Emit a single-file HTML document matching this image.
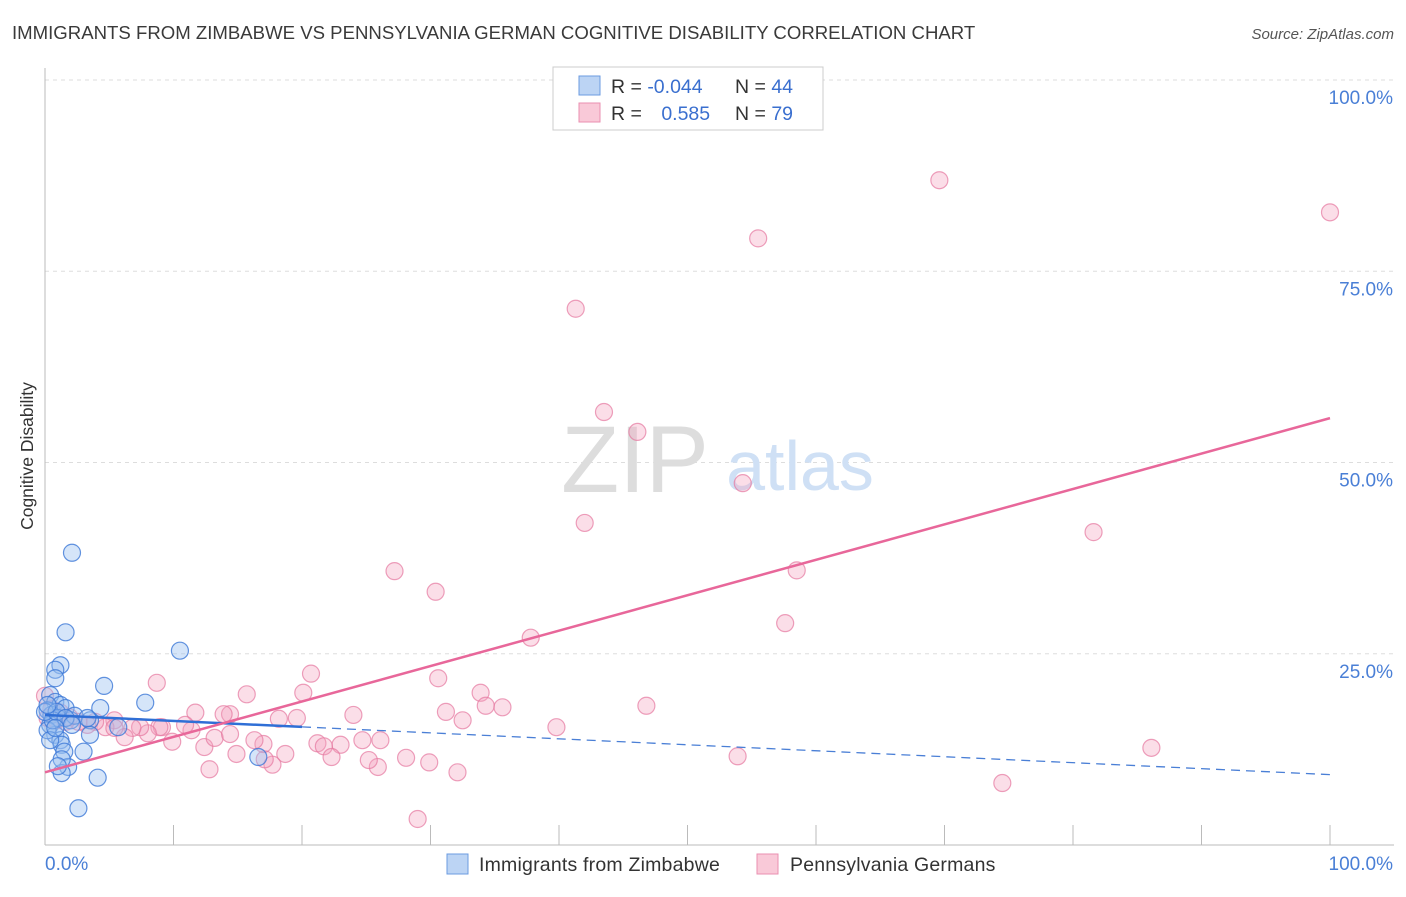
<!DOCTYPE html>
<html><head><meta charset="utf-8">
<style>
body{margin:0;background:#fff;font-family:"Liberation Sans",sans-serif;}
svg text{font-family:"Liberation Sans",sans-serif;}
</style></head>
<body>
<svg width="1406" height="892" xmlns="http://www.w3.org/2000/svg">
<text x="12" y="39" font-size="18.6" fill="#3a3a3a">IMMIGRANTS FROM ZIMBABWE VS PENNSYLVANIA GERMAN COGNITIVE DISABILITY CORRELATION CHART</text>
<text x="1394" y="39" font-size="15" fill="#555" font-style="italic" text-anchor="end">Source: ZipAtlas.com</text>
<g id="grid"></g>
<line x1="45" y1="68" x2="45" y2="845" stroke="#bbb"/>
<line x1="45" y1="845" x2="1394" y2="845" stroke="#bbb"/>
<text x="33" y="456" font-size="17.5" fill="#333" text-anchor="middle" transform="rotate(-90 33 456)">Cognitive Disability</text>
<text x="635" y="492" font-size="95" fill="#ddd" font-family="Liberation Serif" text-anchor="middle">ZIP</text>
<text x="800" y="490" font-size="70" fill="#cfe0f5" text-anchor="middle">atlas</text>
<g id="pts"></g>
<g id="lines"></g>
<text x="45" y="870" font-size="19" fill="#4a7fd6">0.0%</text>
<text x="1393" y="870" font-size="19" fill="#4a7fd6" text-anchor="end">100.0%</text>
<g>
<rect x="553" y="67" width="270" height="63" fill="#fff" stroke="#ccc"/>
<rect x="579" y="76" width="21" height="19" fill="#bcd4f4" stroke="#6b9be0"/>
<rect x="579" y="103" width="21" height="19" fill="#f9c9d8" stroke="#ea8fb0"/>
<text x="611" y="93" font-size="19.5" fill="#333">R = <tspan fill="#3a6fcf">-0.044</tspan></text>
<text x="735" y="93" font-size="19.5" fill="#333">N = <tspan fill="#3a6fcf">44</tspan></text>
<text x="611" y="120" font-size="19.5" fill="#333">R = <tspan fill="#3a6fcf" dx="14">0.585</tspan></text>
<text x="735" y="120" font-size="19.5" fill="#333">N = <tspan fill="#3a6fcf">79</tspan></text>
</g>
<g>
<rect x="447" y="854" width="21" height="20" fill="#bcd4f4" stroke="#6b9be0"/>
<text x="479" y="871" font-size="19.5" fill="#333" letter-spacing="0.2">Immigrants from Zimbabwe</text>
</g>
<g>
<rect x="757" y="854" width="21" height="20" fill="#f9c9d8" stroke="#ea8fb0"/>
<text x="790" y="871" font-size="19.5" fill="#333" letter-spacing="0.2">Pennsylvania Germans</text>
</g>
</svg>
<script>
const yTicks=[25,50,75,100];
const xTicks=[0,10,20,30,40,50,60,70,80,90,100];
const blueX=[2.1,1.6,10.5,1.2,0.8,0.8,4.6,7.8,4.3,0.4,0.8,1.2,1.6,0.2,0.5,1.0,2.0,2.3,3.5,5.7,0.4,0.8,1.2,1.3,3.5,3.0,1.5,1.8,1.3,4.1,2.6,16.6,0.2,0.6,0,0.9,1.6,2.1,0.2,0.4,1.3,3.3,0.8,1.0];
const blueY=[38.2,27.8,25.4,23.5,22.9,21.8,20.8,18.6,17.9,19.6,18.7,18.3,17.9,17.6,17.0,16.6,16.3,16.9,16.3,15.4,15.7,14.4,13.7,13.1,14.4,12.2,12.2,10.2,9.4,8.8,4.8,11.5,15.0,16.3,17.4,17.4,16.6,15.7,18.3,13.7,11.2,16.6,15.3,10.3];
const pinkX=[69.6,100,55.5,41.3,43.5,46.1,54.3,42.0,81.6,27.2,58.5,30.4,37.8,57.6,20.7,8.7,30.6,15.7,20.1,33.9,34.3,35.6,31.2,32.5,46.8,24.0,39.8,86.1,53.9,74.5,29.0,32.1,29.9,28.1,25.9,25.2,26.1,24.7,23.0,21.2,21.7,22.3,19.6,18.2,18.7,17.7,17.1,17.0,16.3,14.9,14.4,13.9,12.8,12.4,13.2,11.7,11.4,10.9,9.9,9.1,8.9,8.0,7.4,6.8,6.2,5.4,4.7,3.9,3.3,2.6,1.9,1.2,0.5,0.2,0.9,0,1.6,5.4,14.4];
const pinkY=[86.9,82.7,79.3,70.1,56.6,54.0,47.3,42.1,40.9,35.8,35.9,33.1,27.1,29.0,22.4,21.2,21.8,19.7,19.9,19.9,18.2,18.0,17.4,16.3,18.2,17.0,15.4,12.7,11.6,8.1,3.4,9.5,10.8,11.4,10.2,11.1,13.7,13.7,13.1,13.3,12.9,11.5,16.6,16.5,11.9,10.5,11.2,13.2,13.7,11.9,17.1,17.1,9.9,12.8,14.0,17.3,15.0,15.7,13.5,15.4,15.4,14.6,15.4,15.3,14.1,16.3,15.4,16.1,15.7,16.1,16.7,17.3,17.8,16.6,16.3,19.5,16.1,15.3,14.5];
const pinkTrend=[9.5,55.8];
const blueTrend=[17.0,9.2];
const NS='http://www.w3.org/2000/svg';
const sx=v=>45+v*12.85, sy=v=>845-v*7.65;
function mk(t,a,p){const e=document.createElementNS(NS,t);for(const k in a)e.setAttribute(k,a[k]);p.appendChild(e);return e;}
const grid=document.getElementById('grid');
yTicks.forEach(t=>{
 const l=mk('line',{x1:45,x2:1394,y1:sy(t),y2:sy(t),stroke:'#ddd','stroke-dasharray':'4,4'},grid);
 
 
 const tx=mk('text',{x:1393,y:sy(t)+24,'font-size':19,fill:'#4a7fd6','text-anchor':'end'},grid);
 tx.textContent=t.toFixed(1)+'%';
 
 
});
xTicks.forEach(t=>{
 const l=mk('line',{x1:sx(t),x2:sx(t),y1:825,y2:845,stroke:'#bbb'},grid);
 
 
});
const pts=document.getElementById('pts');
pinkX.forEach((x,i)=>{
 const c=mk('circle',{cx:sx(x),cy:sy(pinkY[i]),r:8.5,fill:'rgba(244,160,190,0.35)',stroke:'rgba(230,120,160,0.7)','stroke-width':1.2},pts);
 
 
});
blueX.forEach((x,i)=>{
 const c=mk('circle',{cx:sx(x),cy:sy(blueY[i]),r:8.5,fill:'rgba(150,190,240,0.4)',stroke:'rgba(60,120,215,0.8)','stroke-width':1.2},pts);
 
 
});
const ln=document.getElementById('lines');
const bAt=x=>blueTrend[0]+(blueTrend[1]-blueTrend[0])*x/100;
let e=mk('line',{x1:sx(20),y1:sy(bAt(20)),x2:sx(100),y2:sy(bAt(100)),stroke:'#4a7fd6','stroke-width':1.3,'stroke-dasharray':'9,6'},ln);


e=mk('line',{x1:sx(0),y1:sy(bAt(0)),x2:sx(20),y2:sy(bAt(20)),stroke:'#2f6fd6','stroke-width':2.5},ln);


e=mk('line',{x1:sx(0),y1:sy(pinkTrend[0]),x2:sx(100),y2:sy(pinkTrend[1]),stroke:'#e8679a','stroke-width':2.5},ln);


</script>
</body></html>
